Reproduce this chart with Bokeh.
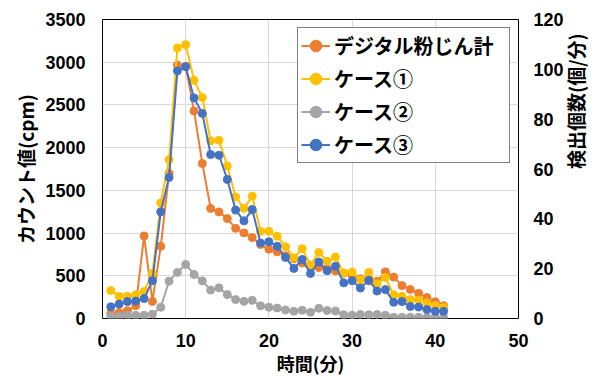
import math
from bokeh.plotting import figure
from bokeh.models import Range1d, LinearAxis, Legend, LegendItem, SingleIntervalTicker
from bokeh.embed import file_html
from bokeh.resources import INLINE

minutes = list(range(1, 42))
digital_cpm = [60, 70, 90, 150, 967, 200, 845, 1697, 2965, 2953, 2430, 1814, 1288, 1248,
               1170, 1055, 1002, 948, 866, 811, 780, 735, 700, 650, 613, 597, 585, 557,
               530, 510, 465, 440, 435, 546, 485, 385, 340, 295, 245, 195, 150]
case1 = [11.2, 8.9, 8.9, 9.5, 10.8, 18.1, 46.4, 63.8, 108.6, 109.9, 95.6, 88.7, 71.3, 71.5,
         61.2, 48.8, 44.2, 49.1, 35.0, 35.0, 33.0, 28.8, 24.4, 28.0, 21.5, 26.5, 23.0, 24.7,
         18.3, 18.6, 15.5, 18.5, 13.9, 16.5, 9.5, 8.9, 7.6, 7.4, 6.3, 5.2, 4.5]
case2 = [0.9, 0.9, 1.3, 1.3, 1.3, 1.7, 4.5, 15.0, 18.5, 21.7, 17.7, 15.1, 11.4, 12.3,
         9.6, 7.6, 6.9, 7.3, 5.1, 4.5, 4.2, 3.4, 2.9, 3.3, 2.5, 4.1, 3.2, 3.0,
         1.5, 1.3, 1.6, 1.5, 1.6, 1.3, 0.5, 0.5, 0.5, 0.5, 0.5, 0.5, 0.5]
case3 = [4.7, 5.8, 6.8, 7.0, 8.0, 15.2, 42.8, 56.6, 99.4, 101.0, 88.5, 82.3, 65.8, 65.5,
         55.8, 43.5, 39.2, 43.7, 30.3, 30.8, 29.0, 24.5, 20.1, 23.7, 18.1, 22.7, 19.2, 21.0,
         14.3, 15.2, 12.2, 15.4, 11.0, 11.6, 6.5, 6.8, 4.8, 4.6, 3.6, 2.9, 2.9]
series_names = ["デジタル粉じん計", "ケース①", "ケース②", "ケース③"]
x_title = "時間(分)"
y_left_title = "カウント値(cpm)"
y_right_title = "検出個数(個/分)"

FONT = "Noto Sans CJK JP"
NUMFONT = "Liberation Sans"
colors = ["#ED7D31", "#FFC000", "#A5A5A5", "#4472C4"]

p = figure(frame_width=416, frame_height=299,
           x_range=Range1d(0, 50), y_range=Range1d(0, 3500),
           output_backend="svg", toolbar_location=None,
           min_border_left=102, min_border_right=84, min_border_top=19, min_border_bottom=63)
p.extra_y_ranges = {"cnt": Range1d(0, 120)}

p.outline_line_color = "black"
p.outline_line_width = 1
p.background_fill_color = "white"
p.border_fill_color = "white"

p.xaxis.ticker = SingleIntervalTicker(interval=10)
p.yaxis.ticker = SingleIntervalTicker(interval=500)
p.xgrid.grid_line_color = "#d9d9d9"
p.ygrid.grid_line_color = "#d9d9d9"

right = LinearAxis(y_range_name="cnt", ticker=SingleIntervalTicker(interval=20))
p.add_layout(right, "right")

p.xaxis.axis_label = x_title
p.yaxis[0].axis_label = y_left_title
right.axis_label = y_right_title
right.axis_label_orientation = math.pi / 2

for ax in [p.xaxis[0], p.yaxis[0], right]:
    ax.axis_line_color = None
    ax.major_tick_line_color = None
    ax.minor_tick_line_color = None
    ax.major_tick_in = 0
    ax.major_tick_out = 0
    ax.minor_tick_in = 0
    ax.minor_tick_out = 0
    ax.major_label_text_font = NUMFONT
    ax.major_label_text_font_style = "bold"
    ax.major_label_text_font_size = "18px"
    ax.major_label_text_color = "black"
    ax.axis_label_text_font = FONT
    ax.axis_label_text_font_style = "bold"
    ax.axis_label_text_font_size = "19px"
    ax.axis_label_text_color = "black"

p.xaxis.axis_label_text_font_size = "18px"
p.xaxis.major_label_standoff = 15
p.xaxis.axis_label_standoff = 0
p.yaxis[0].major_label_standoff = 17
p.yaxis[0].axis_label_standoff = 3
right.major_label_standoff = 15
right.axis_label_standoff = 9

items = []
data = [digital_cpm, case1, case2, case3]
for i, (name, vals, c) in enumerate(zip(series_names, data, colors)):
    kw = {} if i == 0 else {"y_range_name": "cnt"}
    l = p.line(minutes, vals, line_color=c, line_width=2, **kw)
    s = p.scatter(minutes, vals, size=8, fill_color=c, line_color=c, **kw)
    items.append(LegendItem(label=name, renderers=[l, s]))

legend = Legend(items=items, location="top_right", margin=8)
legend.label_text_font = FONT
legend.label_text_font_style = "bold"
legend.label_text_font_size = "20px"
legend.label_text_color = "black"
legend.glyph_width = 29
legend.glyph_height = 29
legend.label_height = 29
legend.label_width = 172
legend.spacing = 4
legend.padding = 3
legend.label_standoff = 4
legend.border_line_color = "black"
legend.border_line_width = 1
legend.background_fill_alpha = 1
p.add_layout(legend)

open("out.html", "w").write(file_html(p, INLINE))
